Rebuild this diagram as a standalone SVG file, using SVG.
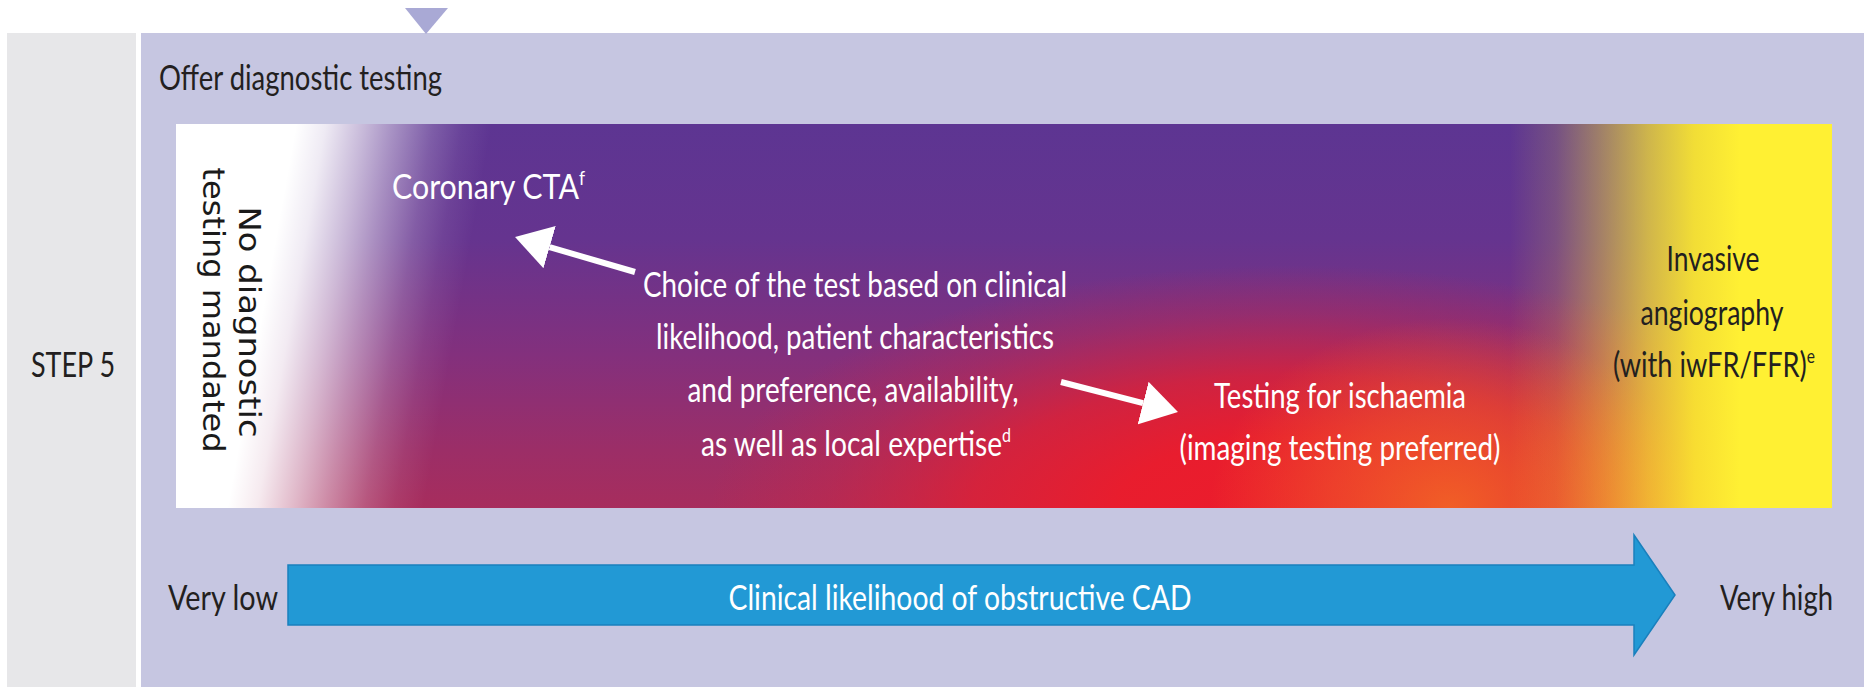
<svg xmlns="http://www.w3.org/2000/svg" width="1864" height="687" viewBox="0 0 1864 687">
  <defs>
    <style>
      .lbl { font-family: Lato, "Liberation Sans", sans-serif; font-size: 35px; }
      .w { fill: #ffffff; }
      .k { fill: #231f20; }
      .mid { text-anchor: middle; }
      .vt { font-family: "DejaVu Sans", Verdana, sans-serif; font-size: 30px; fill: #1a1a1a; text-anchor: middle; }
      .sup { font-size: 20px; }
      .wline { stroke: #ffffff; stroke-width: 6; fill: none; marker-end: url(#headW); }
    </style>

    <!-- base field: purple at the top turning magenta towards the bottom -->
    <linearGradient id="gBase" gradientUnits="userSpaceOnUse" x1="0" y1="124" x2="0" y2="508">
      <stop offset="0" stop-color="#5d3592"/>
      <stop offset="0.3" stop-color="#65348f"/>
      <stop offset="0.6" stop-color="#83307d"/>
      <stop offset="0.85" stop-color="#9c2e67"/>
      <stop offset="1" stop-color="#a72d5d"/>
    </linearGradient>

    <!-- red glow in the lower middle -->
    <radialGradient id="gRed" gradientUnits="userSpaceOnUse" cx="0" cy="0" r="1"
                    gradientTransform="translate(1290 510) scale(580 245)">
      <stop offset="0" stop-color="#ec1c2b" stop-opacity="1"/>
      <stop offset="0.3" stop-color="#ec1c2b" stop-opacity="0.95"/>
      <stop offset="0.55" stop-color="#e81e2e" stop-opacity="0.72"/>
      <stop offset="0.8" stop-color="#dc2238" stop-opacity="0.28"/>
      <stop offset="1" stop-color="#dc2238" stop-opacity="0"/>
    </radialGradient>

    <!-- orange in the lower right -->
    <radialGradient id="gOrange" gradientUnits="userSpaceOnUse" cx="0" cy="0" r="1"
                    gradientTransform="translate(1450 508) scale(240 190)">
      <stop offset="0" stop-color="#f26a25" stop-opacity="0.85"/>
      <stop offset="0.5" stop-color="#f0622a" stop-opacity="0.5"/>
      <stop offset="1" stop-color="#f0622a" stop-opacity="0"/>
    </radialGradient>

    <!-- yellow towards the right edge -->
    <linearGradient id="gYellow" gradientUnits="userSpaceOnUse" x1="1510" y1="0" x2="1740" y2="0">
      <stop offset="0" stop-color="#feec2e" stop-opacity="0"/>
      <stop offset="0.2" stop-color="#feec2e" stop-opacity="0.15"/>
      <stop offset="0.4" stop-color="#feec2e" stop-opacity="0.42"/>
      <stop offset="0.6" stop-color="#feec2e" stop-opacity="0.7"/>
      <stop offset="0.8" stop-color="#feec2e" stop-opacity="0.92"/>
      <stop offset="1" stop-color="#fff033" stop-opacity="1"/>
    </linearGradient>

    <!-- white fade on the left, slanted so it reaches further at the top -->
    <linearGradient id="gWhite" gradientUnits="userSpaceOnUse" x1="262" y1="316" x2="452" y2="350">
      <stop offset="0" stop-color="#ffffff" stop-opacity="1"/>
      <stop offset="0.15" stop-color="#ffffff" stop-opacity="0.9"/>
      <stop offset="0.35" stop-color="#ffffff" stop-opacity="0.65"/>
      <stop offset="0.5" stop-color="#ffffff" stop-opacity="0.45"/>
      <stop offset="0.7" stop-color="#ffffff" stop-opacity="0.2"/>
      <stop offset="0.85" stop-color="#ffffff" stop-opacity="0.07"/>
      <stop offset="1" stop-color="#ffffff" stop-opacity="0"/>
    </linearGradient>

    <marker id="headW" viewBox="0 0 36 44" refX="0" refY="22" markerWidth="36" markerHeight="44"
            markerUnits="userSpaceOnUse" orient="auto">
      <path d="M0,0 L36,22 L0,44 Z" fill="#ffffff"/>
    </marker>
  </defs>

  <rect width="1864" height="687" fill="#ffffff"/>

  <!-- step column -->
  <g id="step-column">
    <rect x="7" y="33" width="129" height="654" fill="#e7e7e9"/>
    <text class="lbl k mid" x="73" y="377" font-size="31" textLength="84" lengthAdjust="spacingAndGlyphs">STEP 5</text>
  </g>

  <!-- main panel -->
  <g id="panel">
    <rect x="141" y="33" width="1723" height="654" fill="#c6c6e1"/>
    <text class="lbl k" x="159" y="90" font-size="38" textLength="283" lengthAdjust="spacingAndGlyphs">Offer diagnostic testing</text>
  </g>

  <!-- colour field of test options -->
  <g id="test-field">
    <rect x="176" y="124" width="1656" height="384" fill="url(#gBase)"/>
    <rect x="176" y="124" width="1656" height="384" fill="url(#gRed)"/>
    <rect x="176" y="124" width="1656" height="384" fill="url(#gOrange)"/>
    <rect x="176" y="124" width="1656" height="384" fill="url(#gYellow)"/>
    <rect x="176" y="124" width="1656" height="384" fill="url(#gWhite)"/>
  </g>

  <g id="no-testing">
    <text class="vt" transform="translate(239 322) rotate(90)" textLength="231" lengthAdjust="spacingAndGlyphs">No diagnostic</text>
    <text class="vt" transform="translate(203 310) rotate(90)" textLength="285" lengthAdjust="spacingAndGlyphs">testing mandated</text>
  </g>

  <g id="coronary-cta">
    <text class="lbl w" x="392" y="199" font-size="36" textLength="193" lengthAdjust="spacingAndGlyphs">Coronary CTA<tspan class="sup" dy="-14">f</tspan></text>
  </g>

  <g id="choice-of-test">
    <text class="lbl w mid" x="855" y="297" textLength="424" lengthAdjust="spacingAndGlyphs">Choice of the test based on clinical</text>
    <text class="lbl w mid" x="855" y="349" textLength="398" lengthAdjust="spacingAndGlyphs">likelihood, patient characteristics</text>
    <text class="lbl w mid" x="853" y="402" textLength="331" lengthAdjust="spacingAndGlyphs">and preference, availability,</text>
    <text class="lbl w mid" x="856" y="456" textLength="310" lengthAdjust="spacingAndGlyphs">as well as local expertise<tspan class="sup" dy="-14">d</tspan></text>
  </g>

  <g id="ischaemia-testing">
    <text class="lbl w mid" x="1340" y="408" textLength="252" lengthAdjust="spacingAndGlyphs">Testing for ischaemia</text>
    <text class="lbl w mid" x="1340" y="460" textLength="321" lengthAdjust="spacingAndGlyphs">(imaging testing preferred)</text>
  </g>

  <g id="invasive-angiography">
    <text class="lbl k mid" x="1713" y="271" font-size="38" textLength="93" lengthAdjust="spacingAndGlyphs">Invasive</text>
    <text class="lbl k mid" x="1712" y="325" font-size="38" textLength="143" lengthAdjust="spacingAndGlyphs">angiography</text>
    <text class="lbl k mid" x="1714" y="377" font-size="38" textLength="202" lengthAdjust="spacingAndGlyphs">(with iwFR/FFR)<tspan class="sup" dy="-14">e</tspan></text>
  </g>

  <g id="likelihood-scale">
    <text class="lbl k" x="168" y="610" font-size="40" textLength="110" lengthAdjust="spacingAndGlyphs">Very low</text>
    <text class="lbl k" x="1720" y="610" font-size="40" textLength="113" lengthAdjust="spacingAndGlyphs">Very high</text>
  </g>

  <!-- connectors -->
  <g id="connectors">
    <polygon points="405,8 448,8 426,34" fill="#a9a9d5"/>
    <line class="wline" x1="635" y1="272" x2="549.6" y2="247.1"/>
    <line class="wline" x1="1061" y1="382" x2="1143.1" y2="403.1"/>
    <polygon points="288,565 1634,565 1634,535 1675,595 1634,655 1634,625 288,625"
             fill="#2299d5" stroke="#1a80bd" stroke-width="1.5" stroke-linejoin="miter"/>
    <text class="lbl w mid" x="960" y="610" font-size="36" textLength="463" lengthAdjust="spacingAndGlyphs">Clinical likelihood of obstructive CAD</text>
  </g>
</svg>
